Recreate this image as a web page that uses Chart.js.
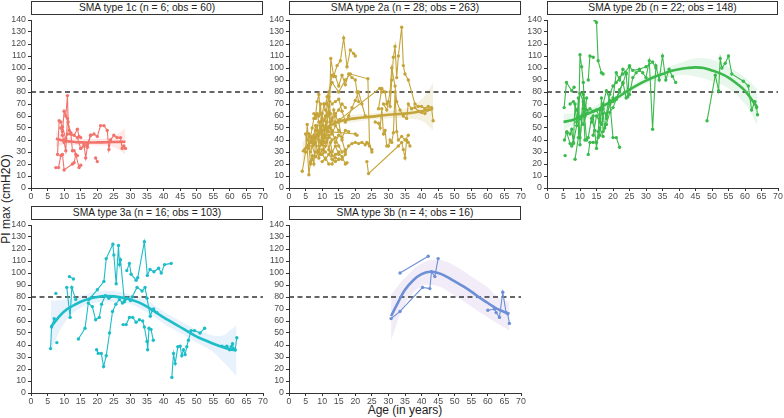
<!DOCTYPE html>
<html>
<head>
<meta charset="utf-8">
<script src="https://cdn.jsdelivr.net/npm/chart.js@4.4.0/dist/chart.umd.min.js"></script>
<style>
  html, body { margin:0; padding:0; background:#fff; }
  body { width:784px; height:418px; position:relative; overflow:hidden; font-family:"Liberation Sans", Arial, sans-serif; }
  canvas { position:absolute; }
  .strip { position:absolute; box-sizing:border-box; border:1px solid #333; background:#fff; font-size:10.3px; color:#222; text-align:center; line-height:12px; white-space:nowrap; }
  .ylab { position:absolute; left:-44px; top:192px; width:100px; height:14px; line-height:14px; text-align:center; transform:rotate(-90deg); font-size:12px; color:#222; white-space:nowrap; }
  .xlab { position:absolute; left:305px; top:403px; width:200px; height:15px; line-height:15px; text-align:center; font-size:12px; color:#222; }
</style>
</head>
<body>
<div class="ylab">PI max (cmH2O)</div>
<div class="xlab">Age (in years)</div>
<script>
// ---------- axis ticks ----------
const xTicks = [0,5,10,15,20,25,30,35,40,45,50,55,60,65,70];
const yTicks = [0,10,20,30,40,50,60,70,80,90,100,110,120,130,140];
const threshold = 80;

// ---------- panel titles ----------
const titles = [
  "SMA type 1c (n = 6; obs = 60)",
  "SMA type 2a (n = 28; obs = 263)",
  "SMA type 2b (n = 22; obs = 148)",
  "SMA type 3a (n = 16; obs = 103)",
  "SMA type 3b (n = 4; obs = 16)"
];

// ---------- individual trajectories [age, PI max] ----------
const type1c = [
  [[7.5,17],[8.3,17],[9,27],[9.5,28],[10,15],[12.5,20],[13,21],[13.5,28],[14.5,17],[15,19]],
  [[8,28],[8.5,56],[9,55],[9.5,47],[10,64],[10.5,60],[11,77],[11.2,55],[12,45],[13,44],[14,49],[14.5,43],[15,42]],
  [[9,50],[9.5,44],[10,38],[10.5,31],[11,58],[11.5,48],[12,46],[12.5,31],[13,31],[14,27]],
  [[15,33],[16,36],[16.5,25],[17,34],[18,44],[19,45],[20,43],[21,52],[22,52],[23,48],[23.5,32],[24,40],[25,44],[26,42],[27,42],[27.5,33],[28,35],[28.5,33]],
  [[9.5,51],[10.5,41],[11,45],[12,45],[14,42],[15,33],[16,35],[17,36],[18,44]],
  [[19.5,25],[20,22]]
];

const type2a = [
  [[12.3,72],[12.6,108],[13.5,93],[14.5,102],[15.5,106],[16.5,125],[17.5,101],[18.5,115],[19.5,112],[20,110]],
  [[11.5,76],[12,80],[13,94],[14,93],[15,85],[16,94],[17,86],[18,95],[19,92],[20,90],[20.5,80],[21,72]],
  [[11,70],[13,88],[15,80],[17,90],[18.5,95],[23.8,91],[24.3,35],[25,30]],
  [[27,66],[28,83],[29,80],[29.5,70],[30,72],[30.5,68],[31,90],[31.5,109],[32,118],[32.5,92],[33,110],[34,134],[34.5,102],[35,95],[36,90],[38,70],[39,68],[40,68],[41,66],[42,68],[43,67],[43.5,56]],
  [[26,55],[27,54],[27.5,50],[28,66],[28.5,45],[29,48],[29.5,35],[30,35],[30.5,40],[31,38],[31.5,46],[32,80],[32.5,47],[33,40],[34,43],[35,40],[36,44]],
  [[15.3,57],[27.4,83],[28,80]],
  [[23.5,22],[24,12],[33,35],[34,38],[34.5,32],[35,25],[35.5,40],[36,38],[36.5,35]],
  [[14,60],[15,55],[16,40],[17,30],[18,35],[19,37],[20,38],[21,37],[22,38],[23,36],[23.5,38],[24,37],[25,32]],
  [[12,47],[20,45],[20.5,44]],
  [[10,22],[11,25],[12,20],[13,20],[14,28],[15,30],[16,26],[17,20],[17.5,21]],
  [[12.5,30],[13,27],[14,25],[15,24],[16,24],[17,28]],
  [[4,14],[5,30],[5.5,53],[6,35],[6.5,20],[7,24],[8,30],[9,32],[10,40],[11,44],[12,50],[13,58],[14,62],[15,65],[16,70],[17,67]],
  [[5,45],[5.5,34],[6,11],[6.5,22],[7,27],[7.5,20],[8,38],[8.5,45],[9,35],[9.5,28],[10,32],[11,30]],
  [[6,33],[6.5,43],[7,50],[7.5,58],[8,60],[8.5,72],[9,78],[9.5,62],[10,58],[10.5,70],[11,65],[11.5,60],[12,68],[12.5,55]],
  [[7,38],[7.5,44],[8,52],[8.5,48],[9,40],[9.5,55],[10,62],[10.5,48],[11,42],[11.5,55],[12,63],[12.5,50],[13,45],[14,52],[15,48]],
  [[8,42],[8.5,30],[9,25],[9.5,38],[10,45],[10.5,30],[11,35],[11.5,40],[12,32],[12.5,38],[13,30],[14,35],[15,28]],
  [[9,60],[9.5,70],[10,48],[10.5,38],[11,52],[11.5,70],[12,76],[12.5,62],[13,56],[13.5,65],[14,55]],
  [[5.5,40],[6,45],[6.5,38],[7,42],[7.5,36],[8,48],[8.5,52],[9,45],[9.5,50],[10,36],[10.5,44],[11,50]],
  [[7.5,62],[8,58],[8.5,62],[9,55],[10,42],[11,38],[12,44],[13,40],[14,42],[15,35],[16,30],[17,32]],
  [[6.5,30],[7,35],[8,26],[9,30],[10,28],[11,24],[12,28],[13,24],[14,22],[15,24]],
  [[13,70],[14,72],[15,74],[16,64],[17,55],[18,60],[19,67],[20,73],[21,80],[22,70],[23,60]],
  [[9,44],[10,52],[10.5,56],[11,60],[11.5,48],[12,42],[13,48],[14,38],[15,44],[16,42],[17,48],[18,47]],
  [[28.5,70],[29.5,65],[30.5,80],[31,100],[32,85],[32.5,72],[33.5,65],[34.5,60],[35.5,58],[36,70],[37,66],[38,67],[39,64],[40,63],[41,62],[42,65]]
];

const type2b = [
  [[5.2,67],[5.9,88],[7.5,81],[8.2,84]],
  [[5.5,27]],
  [[5.3,40],[6,47],[7,45],[7.5,49],[8,37],[8.5,70],[9,55],[10,79],[11,72],[12,40]],
  [[8.5,24],[9.5,42],[10,111],[10.5,101],[11,88],[11.5,60],[12,75]],
  [[6,46],[7,37],[7.5,35],[8,38],[9,52],[9.5,75],[10,36],[10.5,60],[11,78],[12,65]],
  [[12.5,90],[13,110],[14,109]],
  [[12.5,28],[13,38],[14,38],[15,38],[15.5,42],[16,50],[17,43]],
  [[14.5,140],[15,138],[15.5,106],[16.5,96],[17,95]],
  [[13.5,55],[14,60],[15,33],[15.5,47],[16,65],[17,70],[18,81],[19,73],[20,42],[21,42],[22,34]],
  [[14,44],[15,60],[16,55],[16.5,53],[17,62],[17.5,50],[18,58],[19,70],[20,75],[21,96],[22,90],[23,99],[24,95],[24.5,76],[25,102]],
  [[15,65],[16,58],[17,66],[18,60],[19,70],[20,72],[21,75],[22,80],[23,88],[24,75],[25,78],[26,92],[27,96],[28,98],[29,96],[30,92],[31,106],[32,49],[33,102],[34,90],[35,110],[36,90],[37,99],[38,93],[39,88]],
  [[16,44],[16.5,75],[17,47],[18,53],[19,63],[20,67],[21,74],[22,82],[23,87],[24,96]],
  [[10,42],[11,66],[11.5,40],[12.5,42],[13.5,58],[14.5,48]],
  [[48.5,56],[51,94],[52,81],[52.5,108],[53,100],[54,104],[55,110],[56,95],[59.5,89],[61,85],[62,65],[63,72],[63.5,67],[63.8,61]],
  [[7,70],[8,72],[9,65],[10,58],[11,53],[12,62],[13,66],[14,64]],
  [[18,62],[19,78],[20,85],[21,88],[22,92],[23,95],[25,101],[26,98],[28,99],[30,101],[32,105],[33,100]]
];

const type3a = [
  [[5.9,37],[6.2,55],[7,62]],
  [[7.5,83]],
  [[7.8,42]],
  [[10.8,88],[11.8,63],[12.3,88],[13.5,78]],
  [[11.6,97],[12.8,95]],
  [[14.3,45],[16.3,54],[17.3,75],[18.5,72],[19.5,61],[20.6,63],[21.3,74],[22.4,81],[23.5,79]],
  [[17.5,78],[20,86],[22,93],[22.7,112],[24.7,124],[25,115],[25.7,91],[26.4,123],[26.7,107],[27,111],[28.2,76],[29,79],[30,77]],
  [[28.9,102],[29.7,108],[30.2,99],[31.7,94],[32.2,96],[34.2,126],[35.1,98],[35.9,103],[37.1,101],[38.5,104],[39.3,100],[40.3,107],[42.3,108]],
  [[19.8,36],[20.3,33],[21.2,33],[21.9,22],[22.7,31],[23.7,50],[24.6,68],[25.6,74],[26.7,78],[27.6,75],[28.4,78]],
  [[27.8,57],[28.7,57],[29.7,63],[30.7,63],[31.7,59],[32.7,61],[33.7,60],[34.2,55],[35,43],[35.2,36],[35.6,54],[36.2,53],[36.9,44]],
  [[30.5,80],[32,88],[33.5,85],[34.4,88],[35,79],[36,64],[36.6,69],[37,70],[38,67]],
  [[42.5,13],[43,33],[43.5,24.5],[44.3,38.5],[45,39],[45.5,31],[46,36],[46.5,32],[47,38.5],[47.5,44],[48.3,52],[49.3,52],[51,50],[52.4,54]],
  [[57.6,39],[59.1,39],[59.9,36],[60.4,38.5],[60.8,41],[61.1,37],[61.6,36],[62.1,46]]
];

const type3b = [
  [[30.8,62],[33.5,68],[40.3,88],[42.5,87],[43,101],[44,97],[45,112]],
  [[33.5,100],[42,114]],
  [[60,69],[62,70],[62.5,67],[63.5,63],[64.5,84],[65.5,67]],
  [[66,66],[66.5,58]]
];

// ---------- fitted curves and confidence bands [age, PI max] ----------
const fit1c = [[7.5,41],[10,39.5],[12.5,38.5],[15,38],[20,38],[25,38.3],[28.5,38.5]];
const band1cUpper = [[7.5,48],[10,43],[15,41],[20,41],[25,43],[28.5,50]];
const band1cLower = [[7.5,34],[10,36],[15,35.5],[20,35.5],[25,34],[28.5,28]];

const fit2a = [[4,30],[5.5,35],[7,40],[8.5,44],[10,47.5],[11.5,50.5],[13,53],[15,55.5],[17.5,57],[20,58],[25,59.5],[30,61],[35,62],[40,64],[43.5,66]];
const band2aUpper = [[4,38],[7,44],[10,50],[13,56],[15,58],[20,61],[25,62],[30,64],[35,66],[40,74],[43.5,88]];
const band2aLower = [[4,22],[7,36],[10,45],[13,50],[15,53],[20,55],[25,57],[30,58],[35,58],[40,56],[43.5,48]];

const fit2b = [[5,55],[7.5,56.5],[10,59],[12.5,62],[15,65],[17.5,69],[20,73],[22.5,77.5],[25,82],[27.5,86],[30,89.5],[32.5,92.5],[35,95],[37.5,97.5],[40,99],[42.5,100],[45,100.5],[47.5,100],[50,98],[52.5,95.5],[55,92],[57.5,87],[60,81],[62.5,72],[63.8,67]];
const band2bUpper = [[5,62],[10,63],[15,69],[20,76],[25,85],[30,92],[35,99],[40,104],[45,108],[50,107],[55,101],[60,92],[63.8,82]];
const band2bLower = [[5,48],[10,55],[15,61],[20,70],[25,79],[30,87],[35,91],[40,94],[45,93],[50,89],[55,83],[60,70],[63.8,52]];

const fit3a = [[6,55],[8,62],[10,68],[12.5,72.5],[15,76],[17.5,78.5],[20,80],[22.5,80.7],[25,80.5],[27.5,79.5],[30,78],[32.5,75.5],[35,72],[37.5,67.5],[40,63],[42.5,59],[45,55],[47.5,51],[50,47],[52.5,44],[55,41],[57.5,38.5],[60,36.5],[62,35.5]];
const band3aUpper = [[6,77],[10,78],[15,81],[20,84.5],[25,85],[30,82],[35,77],[40,68],[45,60],[50,53],[55,48],[58,48],[60,52],[62,56]];
const band3aLower = [[6,35],[10,58],[15,71],[20,75.5],[25,76],[30,74],[35,67],[40,58],[45,50],[50,42],[55,34],[58,26],[60,20],[62,14]];

const fit3b = [[30.8,64],[33,76],[35,86],[37.5,94],[40,99],[42.5,101],[45,100],[47.5,97],[50,93],[52.5,89],[55,84.5],[57.5,79.5],[60,75],[62.5,70.5],[65,67.5],[66.5,66]];
const band3bUpper = [[30.8,82],[35,96],[40,108],[45,111],[50,106],[55,97],[60,88],[63,80],[66.5,76]];
const band3bLower = [[30.8,44],[35,74],[40,89],[45,89],[50,81],[55,72],[60,63],[63,58],[66.5,52]];

// ---------- panel set-up (layout only) ----------
const panels = [
  {title:titles[0], traj:type1c, fit:fit1c, up:band1cUpper, lo:band1cLower, color:'#F2736C', band:'rgba(248,118,109,0.16)', L:31,  T:20,  W:232, H:168},
  {title:titles[1], traj:type2a, fit:fit2a, up:band2aUpper, lo:band2aLower, color:'#C5A43A', band:'rgba(197,180,90,0.18)', L:289, T:20,  W:232, H:168},
  {title:titles[2], traj:type2b, fit:fit2b, up:band2bUpper, lo:band2bLower, color:'#3CB94C', band:'rgba(90,200,110,0.14)', L:547, T:20,  W:231, H:168},
  {title:titles[3], traj:type3a, fit:fit3a, up:band3aUpper, lo:band3aLower, color:'#1DBDC8', band:'rgba(110,180,235,0.17)', L:31,  T:225, W:232, H:168},
  {title:titles[4], traj:type3b, fit:fit3b, up:band3bUpper, lo:band3bLower, color:'#6C8FD6', band:'rgba(190,160,225,0.2)', L:289, T:225, W:232, H:168}
];

const toXY = arr => arr.map(p => ({x:p[0], y:p[1]}));
const YW = 30, PT = 8, PR = 8, XH = 16;
const tickFont = {family:'"Liberation Sans", Arial, sans-serif', size:8.8};

panels.forEach(p => {
  const s = document.createElement('div');
  s.className = 'strip';
  s.style.left = p.L + 'px';
  s.style.top = (p.T - 19) + 'px';
  s.style.width = p.W + 'px';
  s.style.height = '14px';
  s.textContent = p.title;
  document.body.appendChild(s);

  const c = document.createElement('canvas');
  const cw = p.W + YW + PR, ch = p.H + PT + XH;
  c.width = cw; c.height = ch;
  c.style.left = (p.L - YW) + 'px';
  c.style.top = (p.T - PT) + 'px';
  c.style.width = cw + 'px'; c.style.height = ch + 'px';
  document.body.appendChild(c);

  const datasets = [];
  datasets.push({data:toXY(p.lo), borderWidth:0, pointRadius:0, tension:0.4, fill:false, order:5});
  datasets.push({data:toXY(p.up), borderWidth:0, pointRadius:0, tension:0.4, fill:'-1', backgroundColor:p.band, order:5});
  datasets.push({data:[{x:xTicks[0],y:threshold},{x:xTicks[xTicks.length-1],y:threshold}], borderColor:'#333', borderWidth:1.4, borderDash:[5,3.5], pointRadius:0, order:4});
  p.traj.forEach(t => {
    datasets.push({data:toXY(t), borderColor:p.color, backgroundColor:p.color, borderWidth:1.1, pointRadius:1.7, pointBorderWidth:0, pointBackgroundColor:p.color, tension:0, order:3});
  });
  datasets.push({data:toXY(p.fit), borderColor:p.color, borderWidth:2.6, pointRadius:0, tension:0.4, order:1});

  new Chart(c, {
    type:'line',
    data:{datasets},
    options:{
      responsive:false, animation:false, events:[],
      layout:{padding:{left:0, top:PT, right:PR, bottom:0}},
      plugins:{legend:{display:false}, tooltip:{enabled:false}},
      scales:{
        x:{type:'linear', min:xTicks[0], max:xTicks[xTicks.length-1],
           afterBuildTicks: sc => { sc.ticks = xTicks.map(v => ({value:v})); },
           afterFit: sc => { sc.height = XH; },
           ticks:{autoSkip:false, maxRotation:0, padding:0, color:'#4d4d4d', font:tickFont},
           grid:{drawOnChartArea:false, drawTicks:true, tickLength:3, color:'#333', lineWidth:1},
           border:{display:true, color:'#333', width:1}},
        y:{type:'linear', min:yTicks[0], max:yTicks[yTicks.length-1],
           afterBuildTicks: sc => { sc.ticks = yTicks.map(v => ({value:v})); },
           afterFit: sc => { sc.width = YW; },
           ticks:{autoSkip:false, padding:2, color:'#4d4d4d', font:tickFont},
           grid:{drawOnChartArea:false, drawTicks:true, tickLength:3, color:'#333', lineWidth:1},
           border:{display:true, color:'#333', width:1}}
      }
    }
  });
});
</script>
</body>
</html>
